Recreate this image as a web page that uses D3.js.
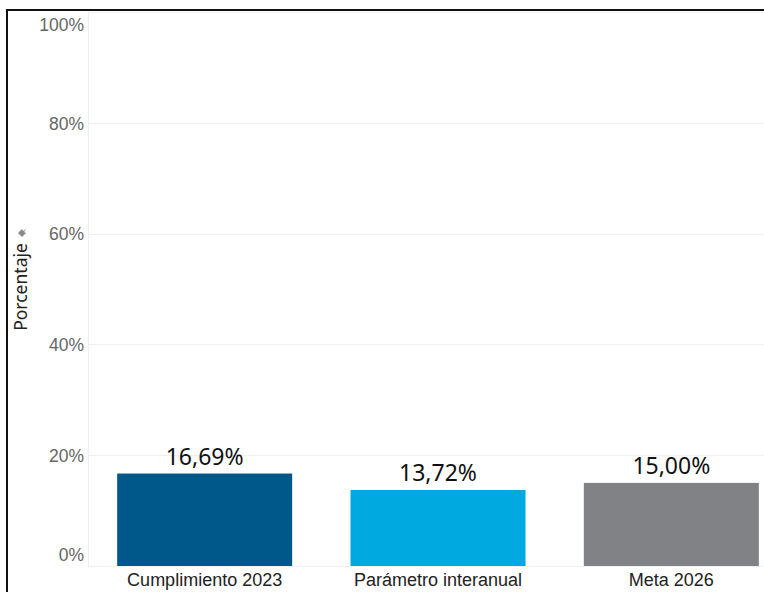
<!DOCTYPE html>
<meta charset="utf-8">
<title>Porcentaje</title>
<style>
  body {
    margin: 0;
    padding: 0;
    overflow: hidden;
    background-color: #fff;
  }

  svg {
    display: block;
    font-family: "Noto Sans", "Open Sans", sans-serif;
  }

  .grid line {
    stroke: #f0f0f0;
    stroke-width: 1;
  }

  .y-axis text {
    fill: #666;
    font-size: 17.5px;
  }

  .x-axis text {
    fill: #222;
    font-size: 18px;
  }

  .value {
    fill: #111;
    font-size: 23px;
  }
</style>

<body>
  <script src="https://cdn.jsdelivr.net/npm/d3@7"></script>
  <script>
    // chart data
    var categories = ["Cumplimiento 2023", "Parámetro interanual", "Meta 2026"];
    var values = [16.69, 13.72, 15.00];
    var valueLabels = ["16,69%", "13,72%", "15,00%"];
    var colors = ["#00578a", "#00a9e0", "#808285"];
    var yTicks = [0, 20, 40, 60, 80, 100];

    var width = 764,
      height = 592;

    var margin = { top: 12, left: 88, bottom: 26 };
    var zeroY = 566;

    var svg = d3.select("body").append("svg")
      .attr("width", width)
      .attr("height", height);

    // frame (top and left only, like the crop)
    svg.append("path")
      .attr("d", `M7,${height} V10 H${width}`)
      .attr("fill", "none")
      .attr("stroke", "#111")
      .attr("stroke-width", 2);

    var y = d3.scaleLinear()
      .domain([0, 100])
      .range([zeroY, margin.top]);

    var x = d3.scaleBand()
      .domain(categories)
      .range([margin.left, margin.left + 700])
      .paddingInner(0.25)
      .paddingOuter(0.125);

    // grid
    svg.append("g").attr("class", "grid")
      .selectAll("line").data(yTicks)
      .enter().append("line")
      .attr("x1", margin.left)
      .attr("x2", width)
      .attr("y1", d => Math.round(y(d)) + 0.5)
      .attr("y2", d => Math.round(y(d)) + 0.5);

    svg.append("line")
      .attr("x1", margin.left + 0.5)
      .attr("x2", margin.left + 0.5)
      .attr("y1", 12)
      .attr("y2", zeroY)
      .attr("stroke", "#f0f0f0");

    // y axis labels
    var yAxis = svg.append("g").attr("class", "y-axis")
      .attr("transform", `translate(${margin.left - 4},0)`)
      .call(d3.axisLeft(y).tickValues(yTicks).tickFormat(d => d + "%").tickSize(0).tickPadding(0));
    yAxis.select(".domain").remove();
    yAxis.selectAll(".tick text")
      .attr("dy", d => d === 100 ? "1.05em" : d === 0 ? "-0.3em" : "0.36em");

    // bars
    svg.append("g").attr("class", "bars")
      .selectAll("rect").data(categories)
      .enter().append("rect")
      .attr("x", d => x(d))
      .attr("width", x.bandwidth())
      .attr("y", (d, i) => y(values[i]))
      .attr("height", (d, i) => zeroY - y(values[i]))
      .attr("fill", (d, i) => colors[i]);

    // value labels
    svg.append("g")
      .selectAll("text").data(categories)
      .enter().append("text")
      .attr("class", "value")
      .attr("text-anchor", "middle")
      .attr("x", d => x(d) + x.bandwidth() / 2)
      .attr("y", (d, i) => y(values[i]) - 9)
      .text((d, i) => valueLabels[i]);

    // x axis labels
    var xAxis = svg.append("g").attr("class", "x-axis")
      .attr("transform", `translate(0,${zeroY})`)
      .call(d3.axisBottom(x).tickSize(0).tickPadding(7));
    xAxis.select(".domain").remove();

    // axis title
    svg.append("text")
      .attr("transform", "translate(27,287) rotate(-90)")
      .attr("text-anchor", "middle")
      .style("font-size", "17.5px")
      .style("fill", "#222")
      .text("Porcentaje");

    // small sort icon above title
    svg.append("path")
      .attr("d", "M18,233 l4,-4 l1,2 l3,-2 l-2,3 l2,1 l-4,4 z")
      .attr("fill", "#888");
  </script>
